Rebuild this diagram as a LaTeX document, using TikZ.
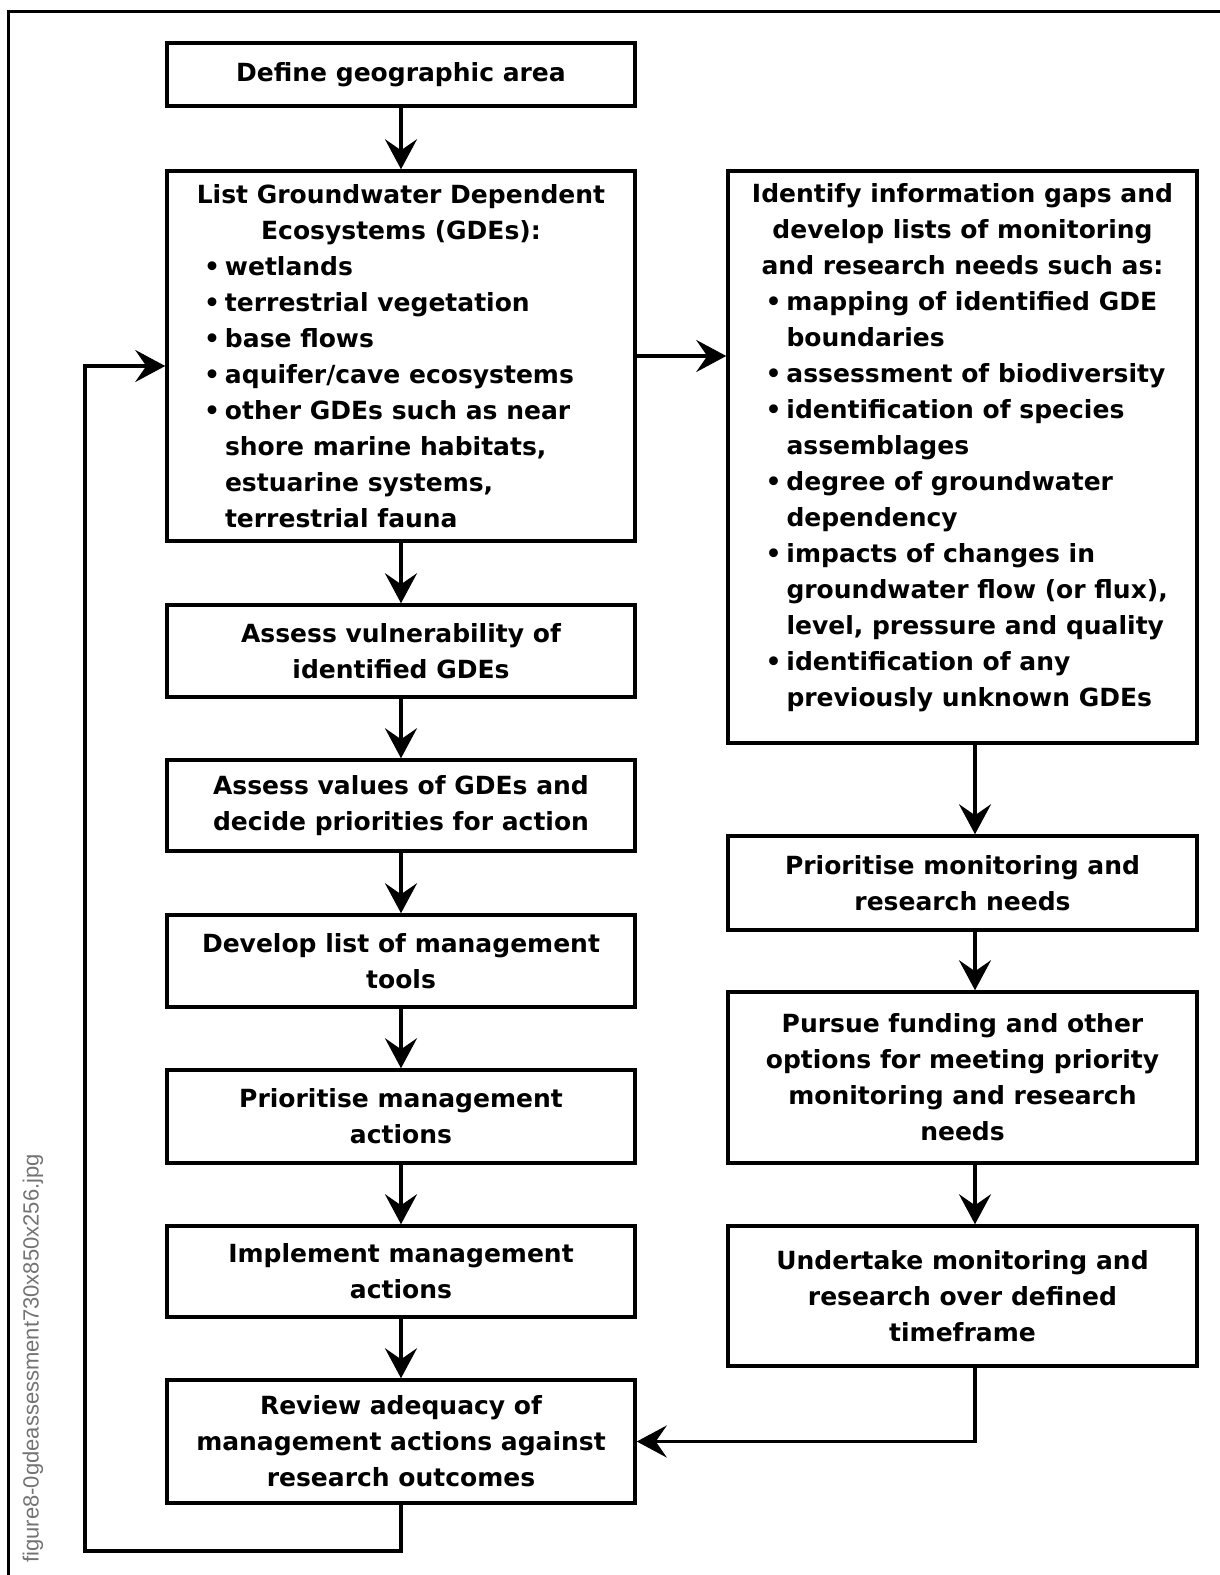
\documentclass[tikz,border=0pt]{standalone}
\usepackage{fontspec}
\setmainfont{DejaVu Sans}
\newfontfamily\capfont{Liberation Sans}
\usetikzlibrary{arrows.meta}

% one bulleted entry with a hanging indent (lines inside broken with \newline)
\newcommand\gdeentry[1]{\par\hangindent=41pt\hangafter=1\noindent\hspace*{20pt}\makebox[21pt][l]{\textbullet}#1}

\begin{document}
\begin{tikzpicture}[x=1pt,y=-1pt,
  stepbox/.style={draw,line width=3.5pt,inner sep=0pt,
    font=\fontsize{25}{36}\bfseries\selectfont,align=center},
  leftbox/.style={stepbox,minimum width=468pt},
  rightbox/.style={stepbox,minimum width=469pt},
  flow/.style={line width=3.5pt,-{Stealth[length=30pt,width=32pt,inset=11pt]}},
  frame/.style={line width=3pt}
]
\useasboundingbox (0,0) rectangle (1219,1575);

% frame lines along the top and left edges
\draw[frame] (8,1580) -- (8,11) -- (1225,11);

% file name printed up the left margin
\node[rotate=90,anchor=east,text=black!55,inner sep=0pt,
  font=\capfont\fontsize{22}{26}\selectfont] (fname) at (33,1154)
  {figure8-0gdeassessment730x850x256.jpg};

% left column
\node[leftbox,minimum height=63pt] (def) at (401,74.5) {Define geographic area};

\node[leftbox,minimum height=370pt] (list) at (401,356) {%
  \begin{minipage}{434pt}\raggedright
  {\centering List Groundwater Dependent\\ Ecosystems (GDEs):\par}
  \gdeentry{wetlands}
  \gdeentry{terrestrial vegetation}
  \gdeentry{base flows}
  \gdeentry{aquifer/cave ecosystems}
  \gdeentry{other GDEs such as near\newline shore marine habitats,\newline estuarine systems,\newline terrestrial fauna}\par
  \end{minipage}};

\node[leftbox,minimum height=92pt] (vul) at (401,651) {Assess vulnerability of\\ identified GDEs};
\node[leftbox,minimum height=91pt] (val) at (401,805.5) {Assess values of GDEs and\\ decide priorities for action};
\node[leftbox,minimum height=92pt] (tools) at (401,961) {Develop list of management\\ tools};
\node[leftbox,minimum height=93pt] (prim) at (401,1116.5) {Prioritise management\\ actions};
\node[leftbox,minimum height=91pt] (impl) at (401,1271.5) {Implement management\\ actions};
\node[leftbox,minimum height=123pt] (rev) at (401,1441.5) {Review adequacy of\\ management actions against\\ research outcomes};

% right column
\node[rightbox,minimum height=572pt] (gaps) at (962.5,457) {%
  \begin{minipage}{434pt}\raggedright
  {\centering Identify information gaps and\\ develop lists of monitoring\\ and research needs such as:\par}
  \gdeentry{mapping of identified GDE\newline boundaries}
  \gdeentry{assessment of biodiversity}
  \gdeentry{identification of species\newline assemblages}
  \gdeentry{degree of groundwater\newline dependency}
  \gdeentry{impacts of changes in\newline groundwater flow (or flux),\newline level, pressure and quality}
  \gdeentry{identification of any\newline previously unknown GDEs}\par
  \vspace*{18pt}
  \end{minipage}};

\node[rightbox,minimum height=94pt] (prmon) at (962.5,883) {Prioritise monitoring and\\ research needs};
\node[rightbox,minimum height=171pt] (fund) at (962.5,1077.5) {Pursue funding and other\\ options for meeting priority\\ monitoring and research\\ needs};
\node[rightbox,minimum height=140pt] (mon) at (962.5,1296) {Undertake monitoring and\\ research over defined\\ timeframe};

% connector guide points
\coordinate (rc) at (975,0);
\coordinate (loopb) at (85,1551);
\coordinate (loopin) at (85,366);

% left column flow
\draw[flow] (def) -- (list);
\draw[flow] (list) -- (vul);
\draw[flow] (vul) -- (val);
\draw[flow] (val) -- (tools);
\draw[flow] (tools) -- (prim);
\draw[flow] (prim) -- (impl);
\draw[flow] (impl) -- (rev);

% across to the right column
\draw[flow] (list.east) -- (list.east -| gaps.west);

% right column flow
\draw[flow] (gaps.south -| rc) -- (prmon.north -| rc);
\draw[flow] (prmon.south -| rc) -- (fund.north -| rc);
\draw[flow] (fund.south -| rc) -- (mon.north -| rc);
\draw[flow] (mon.south -| rc) |- (rev.east);

% feedback loop back to the GDE list
\draw[flow] (rev.south) |- (loopb) -- (loopin) -- (loopin -| list.west);
\end{tikzpicture}
\end{document}
